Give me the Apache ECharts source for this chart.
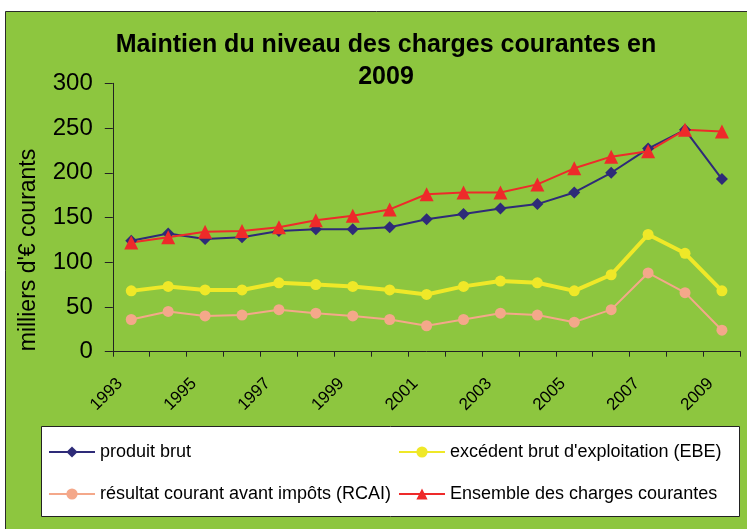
<!DOCTYPE html>
<html><head><meta charset="utf-8">
<script src="https://cdn.jsdelivr.net/npm/echarts@6/dist/echarts.min.js"></script>
<style>html,body{margin:0;padding:0;background:#fff}#c{width:747px;height:529px}</style>
</head><body><div id="c"></div>
<script>
const years = ['1993','1994','1995','1996','1997','1998','1999','2000','2001','2002','2003','2004','2005','2006','2007','2008','2009'];
const produitBrut = [124,132,126,128,135,137,137,139,148,154,160,165,178,200,227,248,193];
const ebe = [68,73,69,69,77,75,73,69,64,73,79,77,68,86,131,110,68];
const rcai = [36,45,40,41,47,43,40,36,29,36,43,41,33,47,88,66,24];
const ensemble = [122,128,134,135,139,147,152,159,176,178,178,187,205,218,224,248,246];
const yTicks = {min:0, max:300, interval:50};
const seriesNames = ['produit brut',"excédent brut d'exploitation (EBE)",'résultat courant avant impôts (RCAI)','Ensemble des charges courantes'];
const FONT = 'Liberation Sans, Arial, sans-serif';

const chart = echarts.init(document.getElementById('c'));
chart.setOption({
  backgroundColor:'#ffffff',
  animation:false,
  textStyle:{fontFamily:FONT},
  title:{
    text:'Maintien du niveau des charges courantes en\n2009',
    left:381, top:24, textAlign:'center',
    textStyle:{fontFamily:FONT,fontSize:25,fontWeight:'bold',color:'#000',lineHeight:32}
  },
  graphic:[
    {type:'rect',z:-10,shape:{x:5.5,y:11.5,width:745,height:520},style:{fill:'#8DC63F',stroke:'#2a2a2a',lineWidth:1}},
    {type:'rect',z:-5,shape:{x:41.5,y:426.5,width:698,height:90},style:{fill:'#ffffff',stroke:'#222',lineWidth:1}},
    {type:'text',x:29,y:250,rotation:Math.PI/2,style:{text:"milliers d'€ courants",font:'23px '+FONT,fill:'#000',textAlign:'center',textVerticalAlign:'middle'}}
  ],
  grid:{left:112.8,right:6.6,top:83.3,bottom:177.3},
  legend:[
    {data:[seriesNames[0],seriesNames[2]],orient:'vertical',left:48,top:443,padding:0,itemWidth:46,itemHeight:14,itemGap:24,
     textStyle:{fontFamily:FONT,fontSize:18,color:'#000'}},
    {data:[seriesNames[1],seriesNames[3]],orient:'vertical',left:398,top:443,padding:0,itemWidth:46,itemHeight:14,itemGap:24,
     textStyle:{fontFamily:FONT,fontSize:18,color:'#000'}}
  ],
  xAxis:{
    type:'category',data:years,boundaryGap:true,
    axisLine:{lineStyle:{color:'#222',width:1}},
    axisTick:{show:true,interval:0,length:5,alignWithLabel:false,lineStyle:{color:'#222'}},
    axisLabel:{interval:1,rotate:45,fontSize:17,color:'#000',fontFamily:FONT,margin:18,padding:[0,16,0,0]},
    splitLine:{show:false}
  },
  yAxis:{
    type:'value',min:yTicks.min,max:yTicks.max,interval:yTicks.interval,
    axisLine:{show:true,lineStyle:{color:'#222',width:1}},
    axisTick:{show:true,length:8,lineStyle:{color:'#222'}},
    axisLabel:{fontSize:24,color:'#000',fontFamily:FONT,margin:20},
    splitLine:{show:false}
  },
  series:[
    {name:seriesNames[0],type:'line',data:produitBrut,symbol:'diamond',symbolSize:12,
     itemStyle:{color:'#2E2B78'},lineStyle:{color:'#2E2B78',width:2}},
    {name:seriesNames[1],type:'line',data:ebe,symbol:'circle',symbolSize:11,
     itemStyle:{color:'#EFE828'},lineStyle:{color:'#EFE828',width:4}},
    {name:seriesNames[2],type:'line',data:rcai,symbol:'circle',symbolSize:11,
     itemStyle:{color:'#F4A88A'},lineStyle:{color:'#F4A88A',width:2}},
    {name:seriesNames[3],type:'line',data:ensemble,symbol:'triangle',symbolSize:14,
     itemStyle:{color:'#EE2A2A'},lineStyle:{color:'#EE2A2A',width:2}}
  ]
});
</script></body></html>
